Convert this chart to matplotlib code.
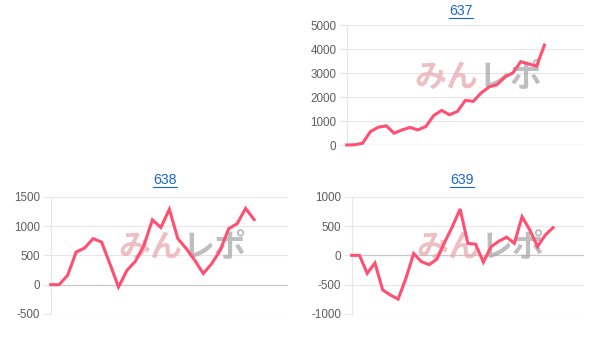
import matplotlib
matplotlib.use("Agg")
import matplotlib.pyplot as plt
from matplotlib.lines import Line2D

plt.rcParams['font.family'] = ['Liberation Sans', 'DejaVu Sans']
plt.rcParams['axes.unicode_minus'] = False

# ---- data ----
days_637 = list(range(1, 32))
values_637 = [0, 10, 70, 560, 740, 800, 490, 630, 730, 630, 770, 1230, 1440,
              1260, 1400, 1860, 1820, 2170, 2420, 2510, 2840, 3000, 3470, 3380,
              3285, 4165]
days_638 = list(range(1, 30))
values_638 = [0, 0, 160, 556, 625, 785, 727, 350, -40, 245, 400, 670, 1105,
              975, 1285, 785, 614, 415, 190, 358, 585, 955, 1040, 1300, 1110]
days_639 = list(range(1, 32))
values_639 = [0, 0, -307, -130, -590, -676, -746, -392, 30, -108, -158, -65,
              222, 489, 790, 205, 190, -115, 148, 240, 310, 205, 659, 432, 148,
              347, 472]

titles = ["637", "638", "639"]
yticks_637 = [0, 1000, 2000, 3000, 4000, 5000]
yticks_638 = [-500, 0, 500, 1000, 1500]
yticks_639 = [-1000, -500, 0, 500, 1000]

W, H = 612, 342
fig = plt.figure(figsize=(W / 100, H / 100), dpi=100)
fig.patch.set_facecolor('white')

LINE = '#ff5071'
GRID = '#e6e6e6'
ZERO = '#c8c8c8'
TICKC = '#5f5f5f'


def add_ax(left, right, top, bottom):
    return fig.add_axes([left / W, 1 - bottom / H, (right - left) / W, (bottom - top) / H])


def style(ax, days, values, yticks):
    ax.plot(range(len(values)), values, color=LINE, lw=2.2, zorder=5,
            solid_joinstyle='miter', clip_on=False)
    ax.set_xlim(0, len(days) - 1)
    ax.set_ylim(yticks[0], yticks[-1])
    ax.set_yticks(yticks)
    ax.set_xticks([])
    for s in ['top', 'right', 'bottom']:
        ax.spines[s].set_visible(False)
    ax.spines['left'].set_color(GRID)
    ax.spines['left'].set_linewidth(0.8)
    ax.tick_params(axis='y', colors=GRID, labelcolor=TICKC, labelsize=8.4,
                   length=6, width=0.8, pad=1.5)
    for t in yticks:
        c = ZERO if t == 0 else GRID
        ax.axhline(t, color=c, lw=0.9 if t == 0 else 0.8, zorder=1)
    # watermark
    cx = 0.545
    cy = 0.56
    ax.text(cx + 0.01, cy, "みん", transform=ax.transAxes, ha='right', va='center',
            fontsize=23, fontweight='bold', color='#e8aab2', alpha=0.75,
            family=['Noto Sans CJK JP'], zorder=2)
    ax.text(cx + 0.01, cy, "レポ", transform=ax.transAxes, ha='left', va='center',
            fontsize=23, fontweight='bold', color='#a8a8a8', alpha=0.75,
            family=['Noto Sans CJK JP'], zorder=2)


ax637 = add_ax(346.7, 584, 25, 145)
style(ax637, days_637, values_637, yticks_637)
ax638 = add_ax(50.7, 288, 196.7, 314)
style(ax638, days_638, values_638, yticks_638)
ax639 = add_ax(351.7, 584, 196.7, 314)
style(ax639, days_639, values_639, yticks_639)

title_pos = [(461, 11), (165, 180), (462, 180)]
texts = []
for t, (x, y) in zip(titles, title_pos):
    tx = fig.text(x / W, 1 - y / H, t, ha='center', va='center', fontsize=10.2,
                  color='#1a66cc')
    texts.append(tx)

fig.canvas.draw()
r = fig.canvas.get_renderer()
for tx in texts:
    bb = tx.get_window_extent(r)
    yline = bb.y0 + 0.5
    fig.add_artist(Line2D([bb.x0 / W, bb.x1 / W], [yline / H, yline / H],
                          transform=fig.transFigure, color='#1a66cc', lw=0.8))

fig.savefig("out.png", dpi=100)
